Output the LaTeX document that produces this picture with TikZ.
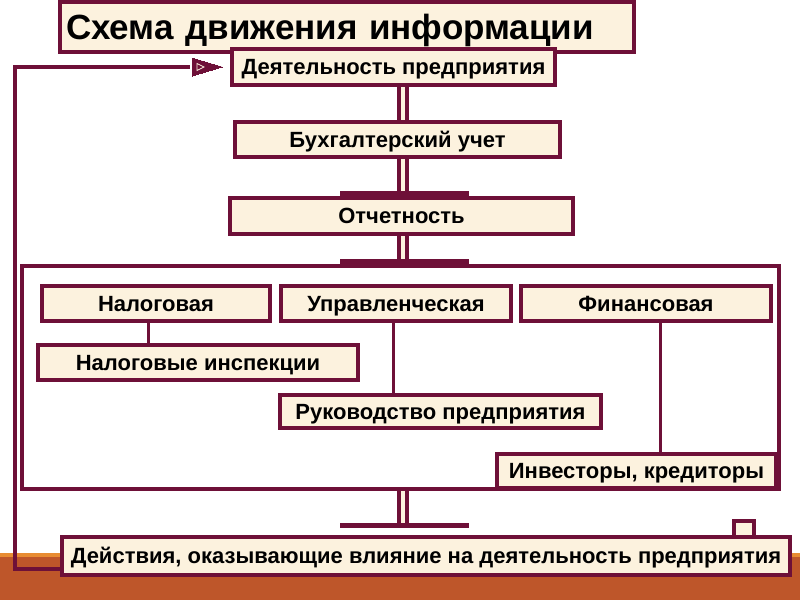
\documentclass[tikz,border=0pt]{standalone}
\usepackage{fontspec}
\setmainfont{Liberation Sans}
\usetikzlibrary{arrows.meta}
\definecolor{wine}{RGB}{110,16,56}
\definecolor{cream}{RGB}{252,242,222}
\definecolor{rust}{RGB}{190,86,42}
\definecolor{amber}{RGB}{232,140,50}
\begin{document}
\begin{tikzpicture}[x=1pt,y=-1pt,
  box/.style={draw=wine, fill=cream, line width=4pt, inner sep=0pt, text=black,
    font=\bfseries\fontsize{22}{24}\selectfont, text height=15.5pt, text depth=0pt},
  link/.style={draw=wine, line width=3pt},
  dbl/.style={draw=wine, double=cream, double distance=4pt, line width=4pt},
  bar/.style={draw=wine, line width=5pt},
  loopline/.style={draw=wine, line width=4pt}
]
\useasboundingbox (0,0) rectangle (800,600);
\fill[white] (0,0) rectangle (800,600);
\fill[rust] (0,556) rectangle (800,600);
\fill[amber] (0,553) rectangle (800,557);

\coordinate (cx) at (403,0);

\node[box, minimum width=574pt, minimum height=50pt, text width=562pt, align=left,
  font=\bfseries\fontsize{35}{38}\selectfont, text height=25pt] (title) at (347,27) {Схема движения информации};
\node[box, minimum width=323pt, minimum height=36pt] (act) at (393.5,67) {Деятельность предприятия};
\node[box, minimum width=325pt, minimum height=35pt] (buh) at (397.5,139.5) {Бухгалтерский учет};
\node[box, minimum width=343pt, minimum height=36pt] (otch) at (401.5,216) {Отчетность};
\node[draw=wine, fill=white, line width=4pt, minimum width=757pt, minimum height=223pt, inner sep=0pt] (cont) at (400.5,377.5) {};

\node[box, minimum width=228pt, minimum height=35pt] (nal) at (156,303.5) {Налоговая};
\node[box, minimum width=230pt, minimum height=35pt] (upr) at (396,303.5) {Управленческая};
\node[box, minimum width=250pt, minimum height=35pt] (fin) at (646,303.5) {Финансовая};
\node[box, minimum width=320pt, minimum height=35pt] (insp) at (198,362.5) {Налоговые инспекции};
\node[box, minimum width=321pt, minimum height=33pt] (ruk) at (440.5,411.5) {Руководство предприятия};
\node[box, minimum width=279pt, minimum height=34pt] (inv) at (636.5,471) {Инвесторы, кредиторы};

\node[box, minimum width=20pt, minimum height=16pt] (sq) at (744,529) {};
\node[box, minimum width=728pt, minimum height=38pt] (bot) at (426,556) {Действия, оказывающие влияние на деятельность предприятия};

% connectors
\draw[dbl] (act.south -| cx) -- (buh.north -| cx);
\draw[dbl] (buh.south -| cx) -- (otch.north -| cx);
\draw[dbl] (otch.south -| cx) -- (cont.north -| cx);
\coordinate (b3) at ([yshift=10pt]bot.north -| cx);
\draw[dbl] (cont.south -| cx) -- (b3);
\draw[bar] ([xshift=-63pt,yshift=3pt]otch.north -| cx) -- ++(129,0);
\draw[bar] ([xshift=-63pt,yshift=3pt]cont.north -| cx) -- ++(129,0);
\draw[bar] ([xshift=-63pt]b3) -- ++(129,0);

\draw[link] (nal.south -| 148,0) -- (insp.north -| 148,0);
\draw[link] (upr.south -| 393,0) -- (ruk.north -| 393,0);
\draw[link] (fin.south -| 660,0) -- (inv.north -| 660,0);

\coordinate (lb) at (15,569);
\coordinate (lt) at (15,67);
\draw[loopline] ([yshift=-13pt]bot.west) -- (lb) -- (lt) -- ([xshift=-40pt]act.west);
\draw[wine, line width=0pt, fill=wine] ([xshift=-38pt]act.west) ++(0,-9) -- ++(30,9) -- ++(-30,9) -- cycle;
\draw[cream, line width=0.8pt] ([xshift=-33pt]act.west) ++(0,-3.5) -- ++(7,3.5) -- ++(-7,3.5) -- cycle;
\end{tikzpicture}
\end{document}
